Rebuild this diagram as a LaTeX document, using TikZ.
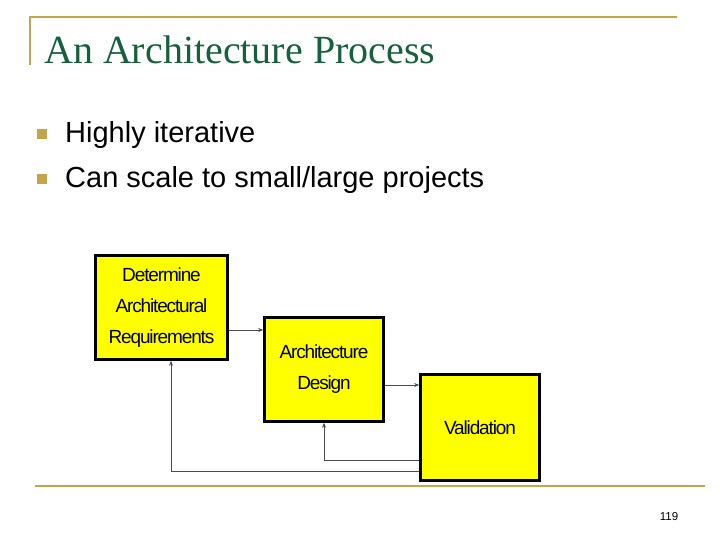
\documentclass[tikz,border=0pt]{standalone}
\usepackage{fontspec}
\setmainfont{Liberation Sans}
\newfontfamily\titlefont{Liberation Serif}
\usetikzlibrary{arrows.meta}
\definecolor{gold}{RGB}{196,166,74}
\definecolor{ttl}{RGB}{22,96,62}
\definecolor{ylw}{RGB}{255,255,0}
\tikzset{
  box/.style={draw=black,line width=2.6pt,fill=ylw,align=center,font=\fontsize{19}{31}\selectfont\addfontfeatures{LetterSpace=-6},inner sep=0pt},
  conn/.style={draw=black!70,line width=0.6pt,-{Stealth[length=5pt,width=4pt]}},
  bul/.style={fill=gold,minimum size=10pt,inner sep=0pt},
  rule/.style={draw=gold,line width=1.6pt}
}
\begin{document}
\begin{tikzpicture}[x=1pt,y=-1pt]
\useasboundingbox (0,0) rectangle (720,540);
\coordinate (t1) at (30,17); \coordinate (t2) at (677,17); \coordinate (t3) at (30,65);
\draw[rule] (t3) -- (t1) -- (t2);
\node[anchor=base west,text=ttl,font=\titlefont\fontsize{40}{42}\selectfont,inner sep=0pt] (title) at (44,64) {An Architecture Process};
\node[bul] (b1) at (42,134) {};
\node[bul] (b2) at (42,179) {};
\node[anchor=base west,font=\fontsize{29}{32}\selectfont,inner sep=0pt] (l1) at (65,143) {Highly iterative};
\node[anchor=base west,font=\fontsize{29}{32}\selectfont,inner sep=0pt] (l2) at (65,188) {Can scale to small/large projects};
\coordinate (r1) at (35,486); \coordinate (r2) at (705,486);
\draw[rule] (r1) -- (r2);
\node[font=\fontsize{11.5}{12}\selectfont] (pg) at (669,517) {119};
\node[box,minimum width=132pt,minimum height=104pt] (req) at (161.5,307.5) {Determine\\Architectural\\Requirements};
\node[box,minimum width=119pt,minimum height=104pt] (des) at (324,369.5) {Architecture\\Design};
\node[box,minimum width=119pt,minimum height=106pt] (val) at (480,427.5) {Validation};
\draw[conn] (req.east |- 0,330) -- (des.west |- 0,330);
\draw[conn] (des.east |- 0,385) -- (val.west |- 0,385);
\draw[conn] (val.west |- 0,460) -| (des.south);
\draw[conn] (val.west |- 0,471) -| (req.south -| 171,0);
\end{tikzpicture}
\end{document}
